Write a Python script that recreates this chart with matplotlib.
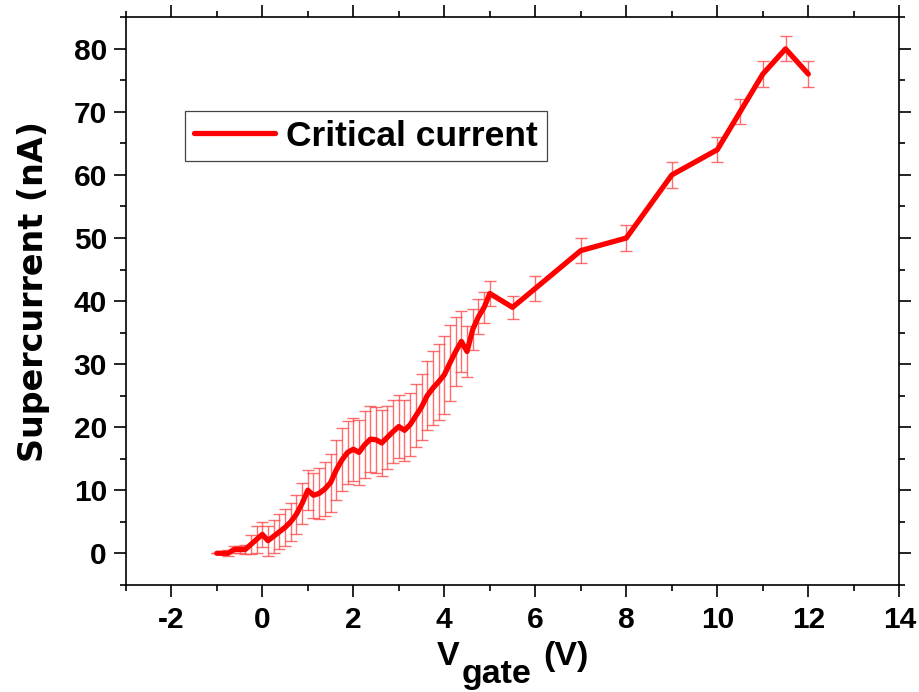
import matplotlib
matplotlib.use("Agg")
import matplotlib.pyplot as plt
from matplotlib.ticker import MultipleLocator

plt.rcParams["axes.unicode_minus"] = False

# ---- data ----
v_gate = [-1.0, -0.875, -0.75, -0.625, -0.5, -0.375, -0.25, -0.125,
          0.0, 0.125, 0.25, 0.375, 0.5, 0.625, 0.75, 0.875,
          1.0, 1.125, 1.25, 1.375, 1.5, 1.625, 1.75, 1.875,
          2.0, 2.125, 2.25, 2.375, 2.5, 2.625, 2.75, 2.875,
          3.0, 3.125, 3.25, 3.375, 3.5, 3.625, 3.75, 3.875,
          4.0, 4.125, 4.25, 4.375, 4.5, 4.625, 4.75, 4.875,
          5.0, 5.5, 6.0, 7.0, 8.0, 9.0, 10.0, 10.5, 11.0, 11.5, 12.0]
current = [0.0, 0.0, 0.0, 0.6, 0.6, 0.6, 1.4, 2.2,
           3.0, 2.0, 2.7, 3.4, 4.1, 5.0, 6.2, 7.9,
           10.0, 9.2, 9.5, 10.2, 11.2, 13.2, 14.8, 16.0,
           16.5, 16.0, 17.2, 18.1, 18.0, 17.5, 18.4, 19.3,
           20.1, 19.5, 20.4, 21.8, 23.2, 25.0, 26.2, 27.2,
           28.3, 30.2, 32.0, 33.6, 32.0, 35.5, 37.5, 39.0,
           41.2, 39.0, 42.0, 48.0, 50.0, 60.0, 64.0, 70.0, 76.0, 80.0, 76.0]
error = [0.0, 0.0, 0.5, 0.5, 0.5, 0.7, 1.5, 2.2,
         2.0, 2.4, 2.6, 2.8, 3.0, 3.0, 3.1, 3.2,
         3.2, 3.6, 4.0, 4.3, 4.6, 4.8, 5.0, 5.0,
         5.0, 5.2, 5.3, 5.2, 5.2, 5.2, 5.0, 5.0,
         5.0, 4.8, 5.0, 5.0, 5.2, 5.5, 5.8, 6.0,
         6.2, 6.0, 5.5, 4.8, 4.0, 3.2, 2.8, 2.5,
         2.0, 1.8, 2.0, 2.0, 2.0, 2.0, 2.0, 2.0, 2.0, 2.0, 2.0]
series_label = "Critical current"
x_ticks = [-2, 0, 2, 4, 6, 8, 10, 12, 14]
y_ticks = [0, 10, 20, 30, 40, 50, 60, 70, 80]

FONT = "Liberation Sans"
W, H = 920, 692
fig = plt.figure(figsize=(W / 100, H / 100), dpi=100)
ax = fig.add_axes([125.8 / W, (H - 584.8) / H, (899.3 - 125.8) / W, (584.8 - 17.3) / H])

ax.errorbar(v_gate, current, yerr=error, fmt="none", ecolor="#ff4a4a",
            elinewidth=1.0, capsize=4.3, capthick=1.0, alpha=0.8, zorder=2)
ax.plot(v_gate, current, color="#ff0000", lw=3.8, solid_capstyle="round",
        solid_joinstyle="round", label=series_label, zorder=3)

ax.set_xlim(-3, 14)
ax.set_ylim(-5, 85)
ax.set_xticks(x_ticks)
ax.set_yticks(y_ticks)
ax.xaxis.set_minor_locator(MultipleLocator(1))
ax.yaxis.set_minor_locator(MultipleLocator(5))
ax.tick_params(which="both", direction="out", top=True, right=True, width=1.2, color="black")
ax.tick_params(which="major", length=8.6)
ax.tick_params(which="minor", length=4.3)
ax.tick_params(axis="y", which="major", pad=5)
ax.tick_params(axis="x", which="major", pad=7)
for lab in ax.get_xticklabels() + ax.get_yticklabels():
    lab.set_fontfamily(FONT)
    lab.set_fontweight("bold")
    lab.set_fontsize(21.5)
for s in ax.spines.values():
    s.set_linewidth(1.2)

leg = ax.legend(loc="upper left", bbox_to_anchor=(0.0765, 0.8354), borderaxespad=0,
                prop={"family": FONT, "weight": "bold", "size": 25.5},
                handlelength=2.3, handletextpad=0.3, borderpad=0.25,
                fancybox=False, framealpha=1, edgecolor="#444444")
leg.get_frame().set_linewidth(0.9)

# y label
fig.text(34 / W, (H - 291.5) / H, "Supercurrent (nA)", rotation=90,
         ha="center", va="center", fontsize=24, fontweight="bold", family="DejaVu Sans")

# x label: V with full-size subscript "gate" and "(V)"
base_main = (H - 665) / H
base_sub = (H - 683) / H
fig.text(437 / W, base_main, "V", ha="left", va="baseline", fontsize=24.5,
         fontweight="bold", family=FONT)
fig.text(462 / W, base_sub, "gate", ha="left", va="baseline", fontsize=24.5,
         fontweight="bold", family=FONT)
fig.text(543 / W, base_main, "(V)", ha="left", va="baseline", fontsize=24.5,
         fontweight="bold", family=FONT)

fig.savefig("out.png", dpi=100)
